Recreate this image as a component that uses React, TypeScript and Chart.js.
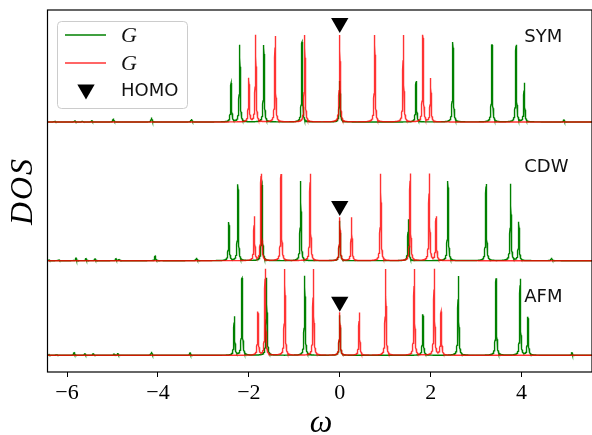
import React, { useEffect, useRef } from "react";
import { Chart, registerables } from "chart.js";
Chart.register(...registerables);

// ---------- data ----------
const xTicks = [-6, -4, -2, 0, 2, 4];
const xMin = -6.43;
const xMax = 5.55;
const yMin = 0;
const yMax = 36.2;

const panelNames = ["SYM", "CDW", "AFM"];
const panelBaselines = [25.0, 11.13, 1.67];
const panelLabelX = 4.06;
const panelLabelY = [33.45, 20.45, 7.43];
const homoX = 0;
const homoY = [34.9, 16.6, 7.03];

// SYM
const symGreenPos = [-6.27, -5.83, -5.66, -5.45, -4.98, -4.14, -3.26, -2.39, -2.2, -1.67, -0.83, 0, 1.68, 2.49, 3.35, 3.88, 4.06, 4.93];
const symGreenH = [0.1, 0.15, 0.1, 0.12, 0.35, 0.45, 0.3, 3.87, 7.7, 7.7, 8.0, 4.1, 4.1, 8.0, 7.7, 7.7, 3.9, 0.25];
const symRedPos = [-2.0, -1.85, -1.42, -0.77, 0, 0.77, 1.4, 1.83, 2.0];
const symRedH = [4.37, 8.7, 8.6, 8.7, 8.7, 8.7, 8.7, 8.7, 4.37];

// CDW
const cdwGreenPos = [-6.4, -6.18, -5.8, -5.58, -5.38, -4.92, -4.85, -4.06, -3.15, -2.44, -2.24, -1.71, -0.86, 0, 1.51, 2.38, 3.22, 3.76, 3.94, 4.66];
const cdwGreenH = [0.1, 0.1, 0.25, 0.2, 0.2, 0.2, 0.15, 0.5, 0.3, 3.84, 7.64, 7.57, 7.97, 4.0, 4.14, 7.97, 7.67, 7.67, 3.87, 0.3];
const cdwRedPos = [-1.88, -1.73, -1.29, -0.65, 0, 0.26, 0.9, 1.55, 1.97, 2.12];
const cdwRedH = [4.4, 8.67, 8.67, 8.7, 4.34, 4.34, 8.7, 8.7, 8.7, 4.4];

// AFM
const afmGreenPos = [-6.4, -6.23, -5.84, -5.61, -5.42, -4.96, -4.88, -4.14, -3.29, -2.32, -2.15, -1.61, -0.77, 0, 1.83, 2.61, 3.44, 3.97, 4.14, 5.11];
const afmGreenH = [0.1, 0.1, 0.3, 0.2, 0.2, 0.15, 0.15, 0.35, 0.25, 3.86, 7.7, 7.76, 7.96, 4.0, 4.1, 7.93, 7.7, 7.63, 3.83, 0.25];
const afmRedPos = [-1.8, -1.64, -1.21, -0.58, 0, 0.43, 1.01, 1.64, 2.08, 2.23];
const afmRedH = [4.33, 8.63, 8.63, 8.63, 4.3, 4.26, 8.63, 8.63, 8.63, 4.33];

const greenPeaks = [
  [symGreenPos, symGreenH],
  [cdwGreenPos, cdwGreenH],
  [afmGreenPos, afmGreenH],
];
const redPeaks = [
  [symRedPos, symRedH],
  [cdwRedPos, cdwRedH],
  [afmRedPos, afmRedH],
];

// ---------- styling ----------
const GREEN = "#008000";
const RED = "rgba(255,0,0,0.8)";
const GAMMA = 0.011;
const SAMPLES = 6000;

function broaden(pos: number[], h: number[], base: number) {
  const xs: number[] = [];
  for (let i = 0; i <= SAMPLES; i++) xs.push(xMin + (i * (xMax - xMin)) / SAMPLES);
  pos.forEach((p) => xs.push(p));
  xs.sort((a, b) => a - b);
  const g2 = GAMMA * GAMMA;
  return xs.map((x) => {
    let y = base;
    for (let k = 0; k < pos.length; k++) {
      const d = x - pos[k];
      y += (h[k] * g2) / (d * d + g2);
    }
    return { x, y };
  });
}

function downTriangle(ctx: CanvasRenderingContext2D, x: number, y: number, r: number) {
  const s = Math.sin(Math.PI / 3) * r;
  ctx.beginPath();
  ctx.moveTo(x, y + r);
  ctx.lineTo(x - s, y - r / 2);
  ctx.lineTo(x + s, y - r / 2);
  ctx.closePath();
  ctx.fill();
}

const decor = {
  id: "decor",
  afterDraw(chart: any) {
    const { ctx, chartArea: a, scales } = chart;
    ctx.save();
    // frame
    ctx.strokeStyle = "#000";
    ctx.lineWidth = 1.2;
    ctx.strokeRect(a.left, a.top, a.right - a.left, a.bottom - a.top);

    // panel labels
    ctx.fillStyle = "#111";
    ctx.font = '18px "DejaVu Sans"';
    ctx.textAlign = "left";
    ctx.textBaseline = "middle";
    panelNames.forEach((n, i) => {
      ctx.fillText(n, scales.x.getPixelForValue(panelLabelX), scales.y.getPixelForValue(panelLabelY[i]));
    });

    // axis titles
    ctx.fillStyle = "#000";
    ctx.textAlign = "center";
    ctx.font = 'italic 32px "Liberation Serif"';
    ctx.fillText("ω", 321, 424);
    ctx.save();
    ctx.translate(24, 191);
    ctx.rotate(-Math.PI / 2);
    try { (ctx as any).letterSpacing = "2px"; } catch (e) {}
    ctx.fillText("DOS", 0, 0);
    ctx.restore();

    // legend
    const lx = 57.5, ly = 21.5, lw = 130, lh = 87;
    ctx.beginPath();
    if ((ctx as any).roundRect) (ctx as any).roundRect(lx, ly, lw, lh, 4);
    else ctx.rect(lx, ly, lw, lh);
    ctx.fillStyle = "rgba(255,255,255,0.8)";
    ctx.fill();
    ctx.strokeStyle = "#cccccc";
    ctx.lineWidth = 1;
    ctx.stroke();

    ctx.lineWidth = 1.3;
    ctx.strokeStyle = GREEN;
    ctx.beginPath();
    ctx.moveTo(65, 35);
    ctx.lineTo(106, 35);
    ctx.stroke();
    ctx.strokeStyle = RED;
    ctx.beginPath();
    ctx.moveTo(65, 63);
    ctx.lineTo(106, 63);
    ctx.stroke();
    ctx.fillStyle = "#000";
    downTriangle(ctx, 86, 89.5, 10);

    ctx.fillStyle = "#111";
    ctx.textAlign = "left";
    ctx.textBaseline = "middle";
    ctx.font = 'italic 22px "Liberation Serif"';
    ctx.fillText("G", 121, 36);
    ctx.fillText("G", 121, 64);
    ctx.font = '18px "DejaVu Sans"';
    ctx.fillText("HOMO", 121, 91);
    ctx.restore();
  },
};

export default function App() {
  const ref = useRef<HTMLCanvasElement>(null);
  useEffect(() => {
    if (!ref.current) return;
    const reds = redPeaks.map(([p, h], i) => ({
      data: broaden(p, h, panelBaselines[i]),
      borderColor: RED,
      borderWidth: 1.4,
      pointRadius: 0,
      fill: false,
      tension: 0,
    }));
    const greens = greenPeaks.map(([p, h], i) => ({
      data: broaden(p, h, panelBaselines[i]),
      borderColor: GREEN,
      borderWidth: 1.4,
      pointRadius: 0,
      fill: false,
      tension: 0,
    }));
    const homo = {
      data: homoY.map((y) => ({ x: homoX, y })),
      showLine: false,
      pointStyle: "triangle",
      pointRotation: 180,
      pointRadius: 10,
      pointBackgroundColor: "#000",
      pointBorderColor: "#000",
      pointBorderWidth: 0,
      borderColor: "#000",
    };
    const chart = new Chart(ref.current, {
      type: "line",
      data: { datasets: [homo, ...reds, ...greens] as any },
      options: {
        animation: false,
        responsive: false,
        events: [],
        layout: { padding: { left: 47.5, top: 10, right: 8, bottom: 0 } },
        plugins: { legend: { display: false }, tooltip: { enabled: false } },
        scales: {
          x: {
            type: "linear",
            min: xMin,
            max: xMax,
            afterBuildTicks: (s: any) => {
              s.ticks = xTicks.map((v) => ({ value: v }));
            },
            afterFit: (s: any) => {
              s.height = 63;
            },
            border: { display: false },
            grid: { display: true, drawOnChartArea: false, drawTicks: true, tickLength: 5, color: "#000", tickWidth: 1 },
            ticks: {
              padding: 3,
              color: "#000",
              font: { family: "Liberation Serif", size: 22, lineHeight: 1.2 },
              maxRotation: 0,
              autoSkip: false,
              callback: (v: any) => (v < 0 ? "\u2212" + Math.abs(v) : String(v)),
            },
          },
          y: { type: "linear", display: false, min: yMin, max: yMax },
        },
      } as any,
      plugins: [decor],
    });
    return () => chart.destroy();
  }, []);
  return (
    <div style={{ position: "fixed", left: 0, top: 0, width: 592, height: 435, overflow: "hidden", background: "#fff" }}>
      <canvas ref={ref} width={602} height={435} style={{ display: "block" }} />
    </div>
  );
}
